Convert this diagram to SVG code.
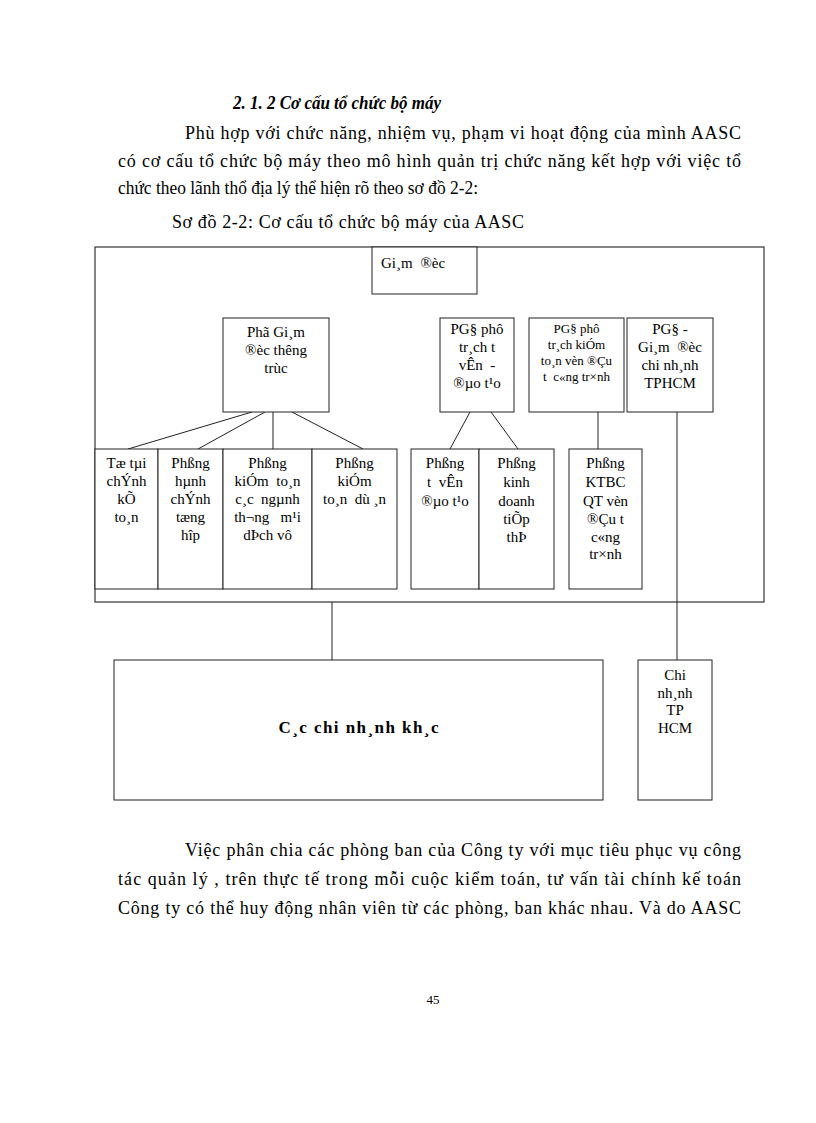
<svg xmlns="http://www.w3.org/2000/svg" width="816" height="1123" viewBox="0 0 816 1123">
<style>
.body{font-family:"Liberation Serif","Times New Roman",serif;font-size:18px;fill:#000}
.title{font-family:"Liberation Serif","Times New Roman",serif;font-size:18px;font-weight:bold;font-style:italic;fill:#000}
.bx{fill:#fff;stroke:#222;stroke-width:1}
.frame{fill:none;stroke:#333;stroke-width:1.2}
.t{font-family:"Liberation Serif","Times New Roman",serif;font-size:15px;fill:#000;text-anchor:middle}
.ts{font-family:"Liberation Serif","Times New Roman",serif;font-size:13px;fill:#000;text-anchor:middle}
.ln{stroke:#222;stroke-width:1;fill:none}
</style>
<rect width="816" height="1123" fill="#fff"/>

<g id="page-text">
<text class="title" x="233" y="109" textLength="208" lengthAdjust="spacingAndGlyphs">2. 1. 2 Cơ cấu tổ chức bộ máy</text>
<text class="body" x="185" y="139" textLength="556" lengthAdjust="spacing">Phù hợp với chức năng, nhiệm  vụ, phạm vi hoạt động của mình AASC</text>
<text class="body" x="118" y="167" textLength="623" lengthAdjust="spacing">có cơ cấu tổ chức bộ máy theo mô hình quản trị chức năng kết hợp với việc tổ</text>
<text class="body" x="118" y="194" textLength="360" lengthAdjust="spacingAndGlyphs">chức theo lãnh thổ địa lý thể hiện rõ theo sơ đồ 2-2:</text>
<text class="body" x="172" y="228" textLength="352" lengthAdjust="spacing">Sơ đồ 2-2:  Cơ cấu tổ chức bộ máy của AASC</text>
<text class="body" x="185" y="856" textLength="556" lengthAdjust="spacing">Việc phân chia các phòng ban của Công ty với mục tiêu phục vụ công</text>
<text class="body" x="118" y="885" textLength="623" lengthAdjust="spacing">tác quản lý , trên thực tế trong mỗi cuộc kiểm toán, tư vấn tài chính kế toán</text>
<text class="body" x="118" y="914" textLength="623" lengthAdjust="spacing">Công ty có thể huy động nhân viên từ các phòng, ban khác nhau. Và do AASC</text>
<text class="body" x="433" y="1004" style="font-size:13px" text-anchor="middle">45</text>
</g>

<g id="frame">
<rect class="frame" x="95" y="247" width="669" height="355"/>
</g>

<g id="connectors">
<line class="ln" x1="252" y1="412" x2="128" y2="449"/>
<line class="ln" x1="265" y1="412" x2="198" y2="449"/>
<line class="ln" x1="273" y1="412" x2="273" y2="449"/>
<line class="ln" x1="292" y1="412" x2="363" y2="449"/>
<line class="ln" x1="470" y1="412" x2="450" y2="449"/>
<line class="ln" x1="491" y1="412" x2="518" y2="449"/>
<line class="ln" x1="598" y1="412" x2="598" y2="449"/>
<line class="ln" x1="677" y1="412" x2="677" y2="660"/>
<line class="ln" x1="332" y1="602" x2="332" y2="660"/>
</g>

<g id="giam-doc">
<rect class="bx" x="372" y="247" width="105" height="47"/>
<text class="t" x="381" y="268" style="text-anchor:start" word-spacing="4">Gi¸m ®èc</text>
</g>

<g id="pho-giam-doc-thuong-truc">
<rect class="bx" x="223" y="318" width="106" height="94"/>
<text class="t" x="276" y="337">Phã Gi¸m</text>
<text class="t" x="276" y="355">®èc thêng</text>
<text class="t" x="276" y="373">trùc</text>
</g>

<g id="pgd-tu-van">
<rect class="bx" x="440" y="318" width="74" height="94"/>
<text class="t" x="477" y="334">PG§ phô</text>
<text class="t" x="477" y="352">tr¸ch t</text>
<text class="t" x="477" y="370" xml:space="preserve">vÊn  -</text>
<text class="t" x="477" y="388">®µo t¹o</text>
</g>

<g id="pgd-xdcb">
<rect class="bx" x="529" y="318" width="95" height="94"/>
<text class="ts" x="576.5" y="333">PG§ phô</text>
<text class="ts" x="576.5" y="349">tr¸ch kiÓm</text>
<text class="ts" x="576.5" y="365">to¸n vèn ®Çu</text>
<text class="ts" x="576.5" y="381" xml:space="preserve">t  c«ng tr×nh</text>
</g>

<g id="pgd-tphcm">
<rect class="bx" x="627" y="318" width="86" height="94"/>
<text class="t" x="670" y="334">PG§ -</text>
<text class="t" x="670" y="352" xml:space="preserve">Gi¸m  ®èc</text>
<text class="t" x="670" y="370">chi nh¸nh</text>
<text class="t" x="670" y="388">TPHCM</text>
</g>

<g id="to-tai-chinh">
<rect class="bx" x="95" y="449" width="63" height="140"/>
<text class="t" x="126.5" y="468">Tæ tµi</text>
<text class="t" x="126.5" y="486">chÝnh</text>
<text class="t" x="126.5" y="504">kÕ</text>
<text class="t" x="126.5" y="522">to¸n</text>
</g>

<g id="phong-hanh-chinh">
<rect class="bx" x="158" y="449" width="65" height="140"/>
<text class="t" x="190.5" y="468">Phßng</text>
<text class="t" x="190.5" y="486">hµnh</text>
<text class="t" x="190.5" y="504">chÝnh</text>
<text class="t" x="190.5" y="522">tæng</text>
<text class="t" x="190.5" y="540">hîp</text>
</g>

<g id="phong-kt-cac-nganh">
<rect class="bx" x="223" y="449" width="89" height="140"/>
<text class="t" x="267.5" y="468">Phßng</text>
<text class="t" x="267.5" y="486" xml:space="preserve">kiÓm  to¸n</text>
<text class="t" x="267.5" y="504" xml:space="preserve">c¸c  ngµnh</text>
<text class="t" x="267.5" y="522" xml:space="preserve">th¬ng   m¹i</text>
<text class="t" x="267.5" y="540">dÞch vô</text>
</g>

<g id="phong-kt-du-an">
<rect class="bx" x="312" y="449" width="85" height="140"/>
<text class="t" x="354.5" y="468">Phßng</text>
<text class="t" x="354.5" y="486">kiÓm</text>
<text class="t" x="354.5" y="504" xml:space="preserve">to¸n  dù ¸n</text>
</g>

<g id="phong-tu-van">
<rect class="bx" x="411" y="449" width="68" height="140"/>
<text class="t" x="445" y="468">Phßng</text>
<text class="t" x="445" y="487" xml:space="preserve">t  vÊn</text>
<text class="t" x="445" y="506">®µo t¹o</text>
</g>

<g id="phong-kinh-doanh">
<rect class="bx" x="479" y="449" width="75" height="140"/>
<text class="t" x="516.5" y="468">Phßng</text>
<text class="t" x="516.5" y="487">kinh</text>
<text class="t" x="516.5" y="506">doanh</text>
<text class="t" x="516.5" y="524">tiÕp</text>
<text class="t" x="516.5" y="542">thÞ</text>
</g>

<g id="phong-ktbc">
<rect class="bx" x="569" y="449" width="73" height="140"/>
<text class="t" x="605.5" y="468">Phßng</text>
<text class="t" x="605.5" y="487">KTBC</text>
<text class="t" x="605.5" y="506">QT vèn</text>
<text class="t" x="605.5" y="524">®Çu t</text>
<text class="t" x="605.5" y="542">c«ng</text>
<text class="t" x="605.5" y="559">tr×nh</text>
</g>

<g id="cac-chi-nhanh-khac">
<rect class="bx" x="114" y="660" width="489" height="140"/>
<text class="t" x="358.5" y="733" style="font-weight:bold;font-size:17px" textLength="160" lengthAdjust="spacing">C¸c chi nh¸nh kh¸c</text>
</g>

<g id="chi-nhanh-tphcm">
<rect class="bx" x="638" y="660" width="74" height="140"/>
<text class="t" x="675" y="680">Chi</text>
<text class="t" x="675" y="698">nh¸nh</text>
<text class="t" x="675" y="715">TP</text>
<text class="t" x="675" y="733">HCM</text>
</g>
</svg>
